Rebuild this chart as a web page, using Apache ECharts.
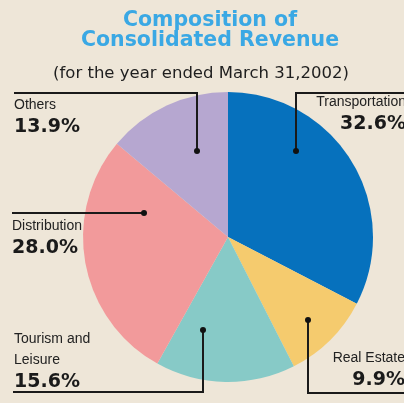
<!DOCTYPE html>
<html><head><meta charset="utf-8">
<script src="https://cdn.jsdelivr.net/npm/echarts@6/dist/echarts.min.js"></script>
<style>html,body{margin:0;padding:0;background:#EEE6D8}#c{width:404px;height:403px}</style>
</head><body><div id="c"></div>
<script>
// ---- data ----
const categories = ['Transportation', 'Real Estate', 'Tourism and\nLeisure', 'Distribution', 'Others'];
const shares = [32.6, 9.9, 15.6, 28.0, 13.9];
const sliceColors = ['#0671BD', '#F5CB6E', '#87CAC7', '#F29A9B', '#B6A7D0'];
const titleText = 'Composition of\nConsolidated Revenue';
const subtitleText = '(for the year ended March 31,2002)';

// ---- annotation layout (leader lines: dot, elbow, end; label anchor) ----
const leaders = [
  { pts: [[296, 151], [296, 93], [412, 93]], x: 406, y: 92, align: 'right' },
  { pts: [[308, 320], [308, 393], [412, 393]], x: 405, y: 348, align: 'right' },
  { pts: [[203, 330], [203, 392], [13, 392]], x: 14, y: 329, align: 'left' },
  { pts: [[144, 213], [80, 213], [12, 213]], x: 12, y: 216, align: 'left' },
  { pts: [[197, 151], [197, 93], [14, 93]], x: 14, y: 95, align: 'left' }
];

const chart = echarts.init(document.getElementById('c'));
const guideGraphics = [];
leaders.forEach(l => {
  guideGraphics.push({
    type: 'polyline', shape: { points: l.pts },
    style: { stroke: '#1a1a1a', lineWidth: 2, fill: null }, z: 100
  });
  guideGraphics.push({
    type: 'circle', shape: { cx: l.pts[0][0], cy: l.pts[0][1], r: 3 },
    style: { fill: '#111' }, z: 101
  });
});

chart.setOption({
  backgroundColor: '#EEE6D8',
  animation: false,
  title: [
    {
      text: titleText, left: 210, top: 11, textAlign: 'center', padding: 0,
      textStyle: { fontFamily: 'DejaVu Sans', fontWeight: 'bold', fontSize: 20.5, lineHeight: 20, color: '#3AA8E4' }
    },
    {
      text: subtitleText, left: 201, top: 65, textAlign: 'center', padding: 0,
      textStyle: { fontFamily: 'DejaVu Sans', fontWeight: 'normal', fontSize: 16.5, lineHeight: 18, color: '#1e1e1e' }
    }
  ],
  graphic: guideGraphics,
  series: [{
    type: 'pie',
    center: [228, 237],
    radius: 145,
    startAngle: 90,
    clockwise: true,
    avoidLabelOverlap: false,
    emphasis: { disabled: true },
    data: categories.map((c, i) => ({ name: c, value: shares[i], itemStyle: { color: sliceColors[i] } })),
    label: {
      show: true,
      position: 'outside',
      formatter: p => p.name.split('\n').map(s => '{n|' + s + '}').join('\n') + '\n{p|' + p.value.toFixed(1) + '%}',
      rich: {
        n: { fontFamily: 'Liberation Sans', fontSize: 14, color: '#222', lineHeight: 21 },
        p: { fontFamily: 'DejaVu Sans', fontWeight: 'bold', fontSize: 19, color: '#1a1a1a', lineHeight: 23 }
      }
    },
    labelLine: { show: false },
    labelLayout: params => {
      const l = leaders[params.dataIndex];
      return { x: l.x, y: l.y, align: l.align, verticalAlign: 'top' };
    }
  }]
});
</script></body></html>
